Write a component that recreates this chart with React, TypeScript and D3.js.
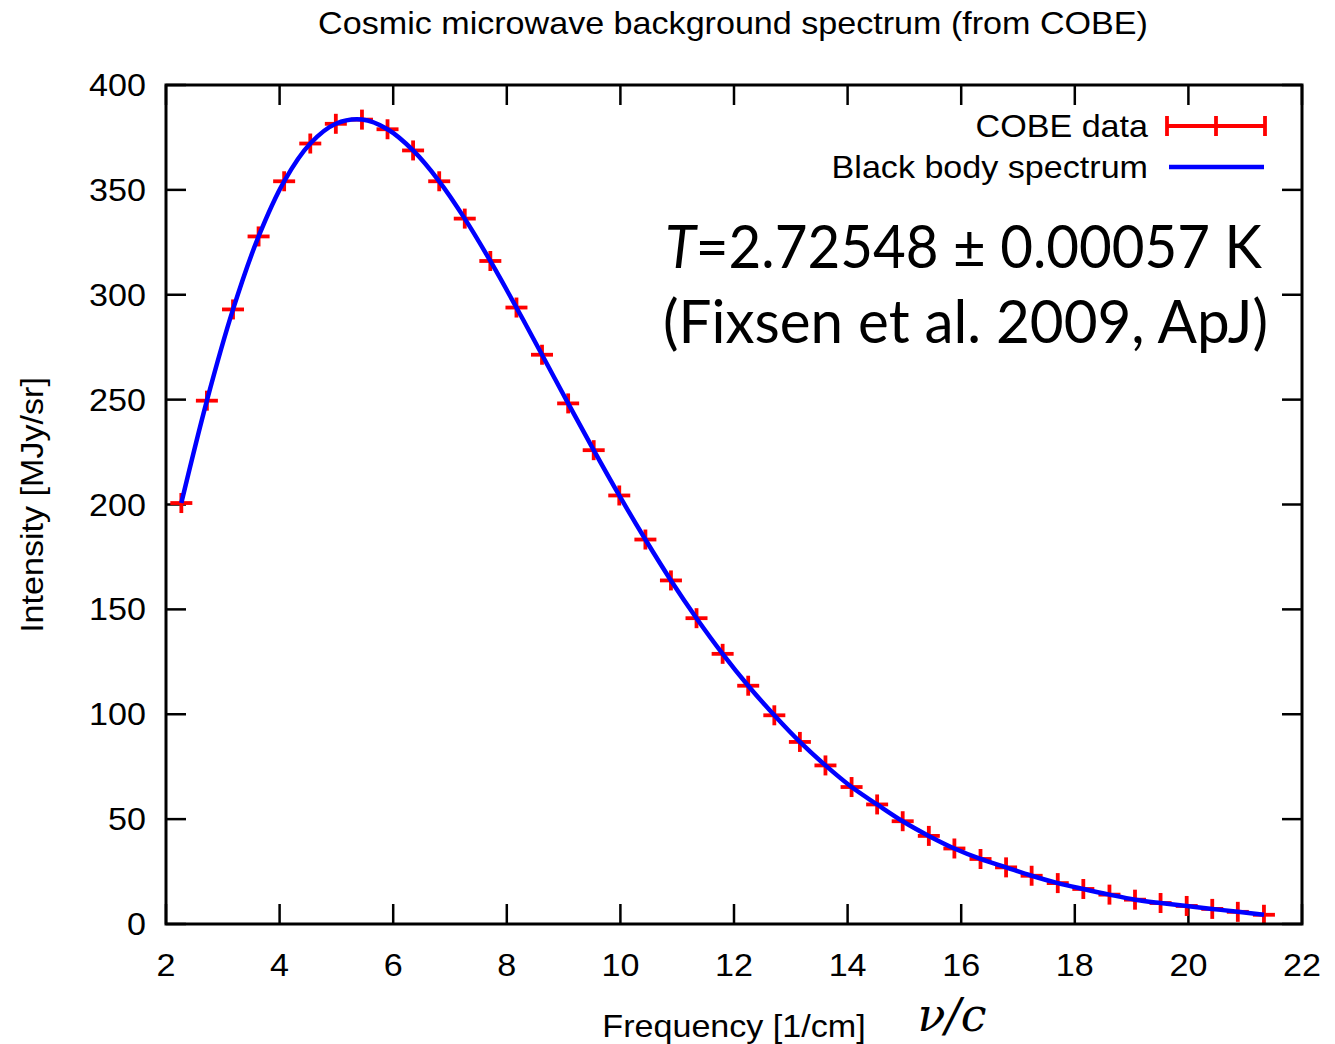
import React from "react";
import * as d3 from "d3";

const freq = [2.27, 2.72, 3.18, 3.63, 4.08, 4.54, 4.99, 5.45, 5.9, 6.35, 6.81, 7.26, 7.71, 8.17, 8.62, 9.08, 9.53, 9.98, 10.44, 10.89, 11.34, 11.8, 12.25, 12.71, 13.16, 13.61, 14.07, 14.52, 14.97, 15.43, 15.88, 16.34, 16.79, 17.24, 17.7, 18.15, 18.61, 19.06, 19.51, 19.97, 20.42, 20.87, 21.33];
const intensity = [200.7, 249.5, 293.0, 327.8, 354.1, 372.1, 381.5, 383.5, 378.9, 368.8, 354.1, 336.3, 316.1, 293.9, 271.4, 248.2, 225.9, 204.3, 183.3, 163.8, 145.8, 128.8, 113.6, 99.5, 86.8, 75.6, 65.3, 57.0, 49.0, 42.0, 36.0, 31.0, 27.0, 23.0, 19.5, 16.7, 14.0, 11.6, 10.0, 8.6, 7.2, 5.8, 4.4];
const xTicks = [2, 4, 6, 8, 10, 12, 14, 16, 18, 20, 22];
const yTicks = [0, 50, 100, 150, 200, 250, 300, 350, 400];

const W = 1335;
const H = 1044;
const L = 166, R = 1302, T = 85, B = 924;
const SANS = "'Liberation Sans', Arial, sans-serif";
const FS = 31;
const SX = 1.1;

function Label(props: { x: number; y: number; anchor?: string; rotate?: number; children: React.ReactNode }) {
  const { x, y, anchor = "start", rotate = 0, children } = props;
  return (
    <text
      transform={`translate(${x},${y}) rotate(${rotate}) scale(${SX},1)`}
      textAnchor={anchor}
      fontFamily={SANS}
      fontSize={FS}
      fill="#000"
    >
      {children}
    </text>
  );
}

export default function App() {
  const x = d3.scaleLinear().domain([2, 22]).range([L, R]);
  const y = d3.scaleLinear().domain([0, 400]).range([B, T]);
  const pts = freq.map((f, i) => [f, intensity[i]] as [number, number]);
  const line = d3
    .line<[number, number]>()
    .x((d) => x(d[0]))
    .y((d) => y(d[1]))
    .curve(d3.curveCatmullRom.alpha(0.5));
  const tickLen = 20;
  return (
    <svg
      width={W}
      height={H}
      style={{ position: "absolute", left: 0, top: 0, background: "#fff", display: "block" }}
    >
      <rect x={0} y={0} width={W} height={H} fill="#fff" />
      <Label x={733} y={34} anchor="middle">
        Cosmic microwave background spectrum (from COBE)
      </Label>
      {xTicks.map((t) => (
        <g key={"x" + t}>
          <line x1={x(t)} x2={x(t)} y1={B} y2={B - tickLen} stroke="#000" strokeWidth={2.5} />
          <line x1={x(t)} x2={x(t)} y1={T} y2={T + tickLen} stroke="#000" strokeWidth={2.5} />
          <Label x={x(t)} y={976} anchor="middle">
            {t}
          </Label>
        </g>
      ))}
      {yTicks.map((t) => (
        <g key={"y" + t}>
          <line x1={L} x2={L + tickLen} y1={y(t)} y2={y(t)} stroke="#000" strokeWidth={2.5} />
          <line x1={R} x2={R - tickLen} y1={y(t)} y2={y(t)} stroke="#000" strokeWidth={2.5} />
          <Label x={146} y={y(t) + 11} anchor="end">
            {t}
          </Label>
        </g>
      ))}
      <Label x={43} y={505} anchor="middle" rotate={-90}>
        Intensity [MJy/sr]
      </Label>
      <Label x={734} y={1037} anchor="middle">
        Frequency [1/cm]
      </Label>
      <text x={952} y={1031} textAnchor="middle" fontFamily="'DejaVu Serif', serif" fontStyle="italic" fontSize={46} fill="#000">
        ν/c
      </text>
      {pts.map((d, i) => (
        <g key={"p" + i} stroke="#ff0000" strokeWidth={3.8}>
          <line x1={x(d[0]) - 11} x2={x(d[0]) + 11} y1={y(d[1])} y2={y(d[1])} />
          <line x1={x(d[0])} x2={x(d[0])} y1={y(d[1]) - 10} y2={y(d[1]) + 10} />
        </g>
      ))}
      <path d={line(pts) || ""} fill="none" stroke="#0000ff" strokeWidth={4.5} />
      <rect x={L} y={T} width={R - L} height={B - T} fill="none" stroke="#000" strokeWidth={3} />
      <Label x={1148} y={137} anchor="end">
        COBE data
      </Label>
      <g stroke="#ff0000" strokeWidth={3.8}>
        <line x1={1167} x2={1265} y1={126} y2={126} />
        <line x1={1167} x2={1167} y1={116} y2={136} />
        <line x1={1265} x2={1265} y1={116} y2={136} />
        <line x1={1216} x2={1216} y1={116} y2={136} />
      </g>
      <Label x={1148} y={178} anchor="end">
        Black body spectrum
      </Label>
      <line x1={1169} x2={1264} y1={167} y2={167} stroke="#0000ff" strokeWidth={4.5} />
      <text x={665} y={268} fontFamily="Lato, 'Open Sans', sans-serif" fontSize={60} fill="#000" textLength={597} lengthAdjust="spacingAndGlyphs">
        <tspan fontStyle="italic">T</tspan>=2.72548 ± 0.00057 K
      </text>
      <text x={663} y={343} fontFamily="Lato, 'Open Sans', sans-serif" fontSize={60} fill="#000" textLength={605} lengthAdjust="spacingAndGlyphs">
        (Fixsen et al. 2009, ApJ)
      </text>
    </svg>
  );
}
